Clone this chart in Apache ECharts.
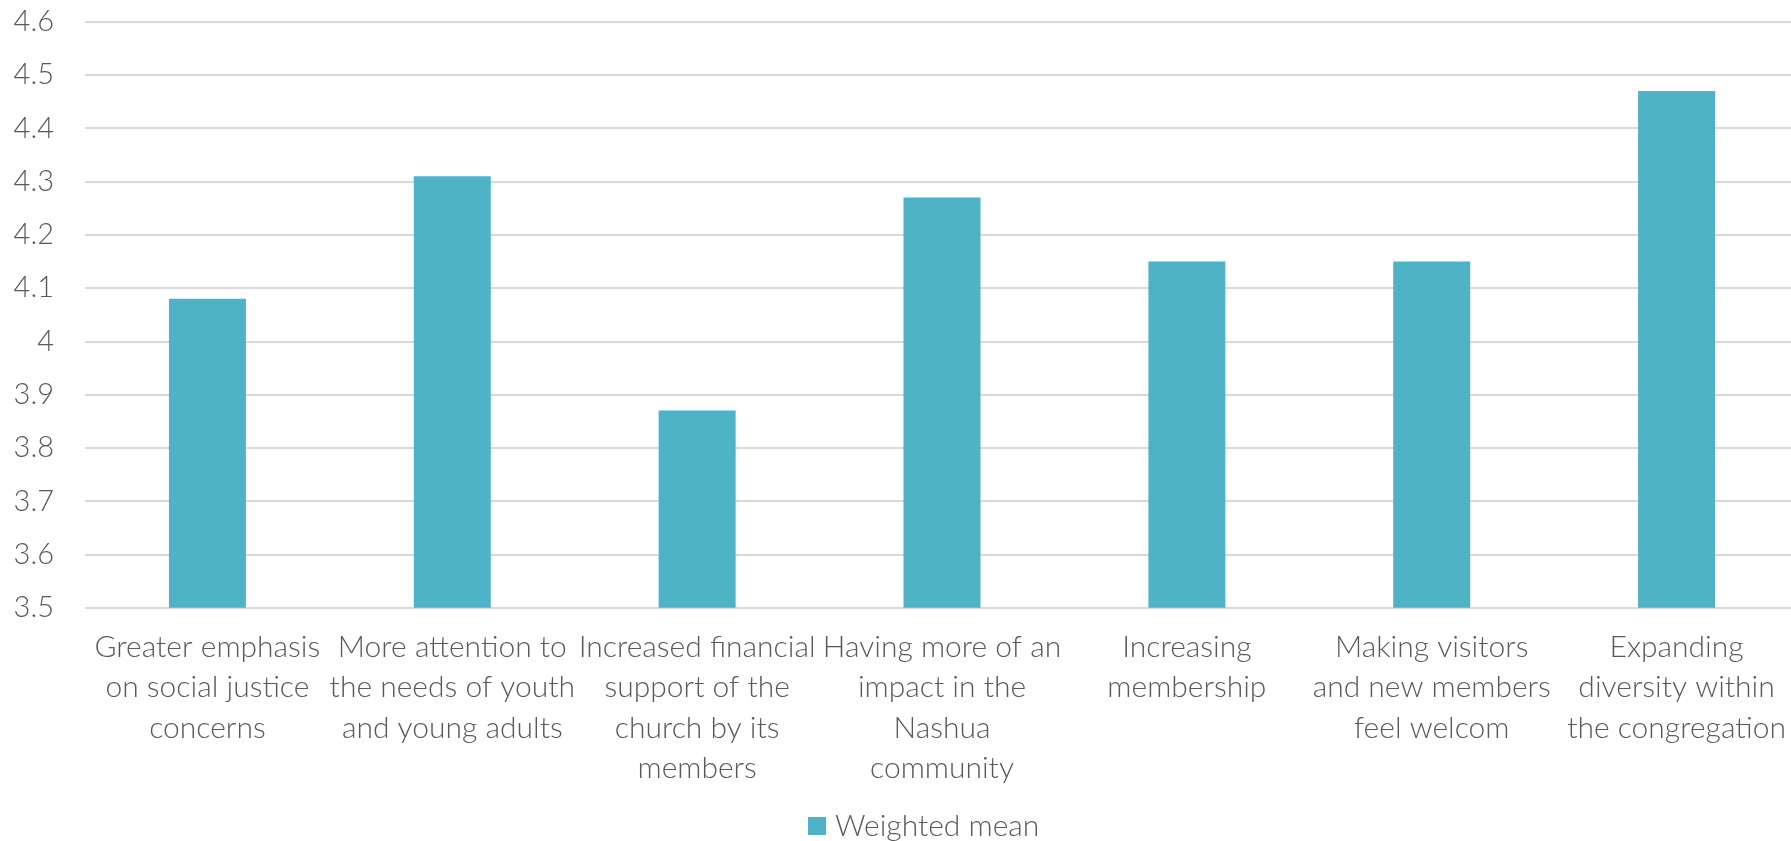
<!DOCTYPE html>
<html>
<head>
<meta charset="utf-8">
<script src="https://cdn.jsdelivr.net/npm/echarts@6/dist/echarts.min.js"></script>
<style>
  html, body { margin: 0; padding: 0; background: #ffffff; }
  #chart { width: 1791px; height: 841px; }
</style>
</head>
<body>
<div id="chart"></div>
<script>
// Category labels (line breaks as they wrap under each bar)
const categories = [
  'Greater emphasis\non social justice\nconcerns',
  'More attention to\nthe needs of youth\nand young adults',
  'Increased financial\nsupport of the\nchurch by its\nmembers',
  'Having more of an\nimpact in the\nNashua\ncommunity',
  'Increasing\nmembership',
  'Making visitors\nand new members\nfeel welcom',
  'Expanding\ndiversity within\nthe congregation'
];
const seriesName = 'Weighted mean';
const weightedMean = [4.08, 4.31, 3.87, 4.27, 4.15, 4.15, 4.47];
const yTicks = [3.5, 3.6, 3.7, 3.8, 3.9, 4, 4.1, 4.2, 4.3, 4.4, 4.5, 4.6];

const textColor = '#595959';
const fontFamily = 'Lato, "Open Sans", sans-serif';

const chart = echarts.init(document.getElementById('chart'), null, { renderer: 'canvas' });
chart.setOption({
  animation: false,
  backgroundColor: '#ffffff',
  // plot area runs slightly past the right edge of the canvas
  grid: {
    left: 85, width: 1714, top: 21.7, height: 586,
    containLabel: false,
    outerBoundsMode: 'none'
  },
  legend: {
    data: [seriesName],
    top: 806,
    left: 803,
    icon: 'rect',
    itemWidth: 18,
    itemHeight: 18,
    itemGap: 8,
    textStyle: { color: textColor, fontSize: 30, fontFamily, fontWeight: 300, padding: [0, 0, 0, 4] }
  },
  xAxis: {
    type: 'category',
    data: categories,
    axisTick: { show: false },
    axisLine: { show: false },
    axisLabel: {
      interval: 0,
      margin: 19,
      color: textColor,
      fontSize: 30,
      lineHeight: 40.5,
      fontFamily,
      fontWeight: 300,
      align: 'center'
    }
  },
  yAxis: {
    type: 'value',
    min: yTicks[0],
    max: yTicks[yTicks.length - 1],
    interval: 0.1,
    axisLine: { show: false },
    axisTick: { show: false },
    splitLine: { lineStyle: { color: '#d9d9d9', width: 2 } },
    axisLabel: {
      margin: 31,
      color: textColor,
      fontSize: 29,
      fontFamily,
      fontWeight: 300,
      formatter: v => String(+v.toFixed(1))
    }
  },
  series: [{
    name: seriesName,
    type: 'bar',
    data: weightedMean,
    barWidth: 77,
    itemStyle: { color: '#4fb3c8' }
  }]
});
</script>
</body>
</html>
